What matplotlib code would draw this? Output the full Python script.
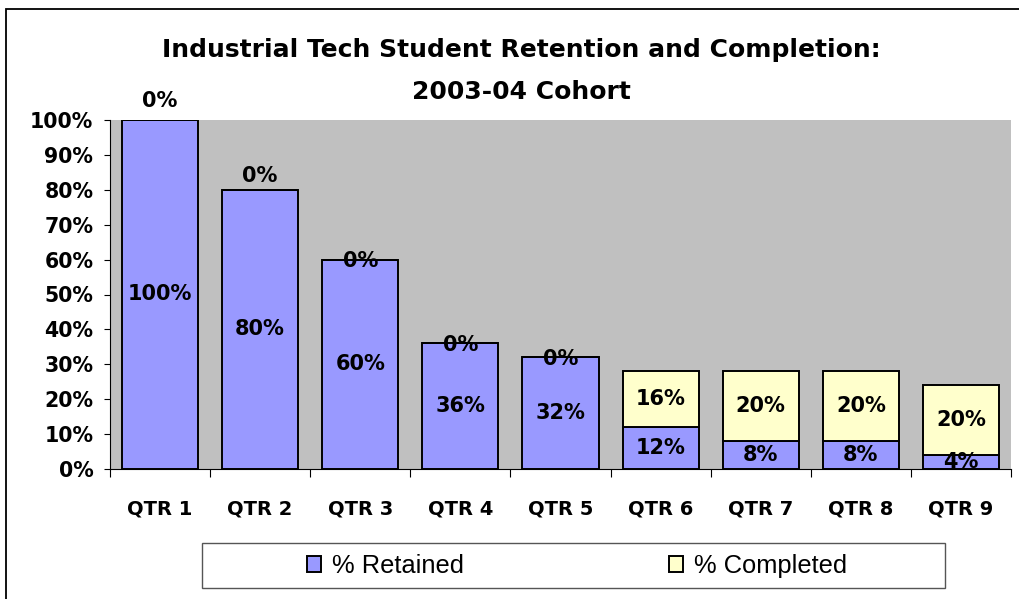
import matplotlib
matplotlib.use("Agg")
import matplotlib.pyplot as plt
from matplotlib.patches import Rectangle
from matplotlib.ticker import PercentFormatter, FixedLocator, NullFormatter
import numpy as np

# data (percent of cohort)
quarters = ["QTR 1", "QTR 2", "QTR 3", "QTR 4", "QTR 5",
            "QTR 6", "QTR 7", "QTR 8", "QTR 9"]
retained = [100, 80, 60, 36, 32, 12, 8, 8, 4]
completed = [0, 0, 0, 0, 0, 16, 20, 20, 20]

# Excel-ish palette
RET = "#9999FF"
COMP = "#FFFFCC"
PLOT_BG = "#C0C0C0"

# nudges (points) Excel applied to the zero "completed" labels
zero_nudge = [14, 10, -1, -1, -1, 0, 0, 0, 0]

W, H = 1020, 599
fig = plt.figure(figsize=(W / 100, H / 100), dpi=100)
fig.patch.set_facecolor("white")

ax = fig.add_axes([110 / W, 1 - 469 / H, (1011 - 110) / W, (469 - 120) / H])
ax.set_facecolor(PLOT_BG)

x = np.arange(len(quarters))
b1 = ax.bar(x, retained, width=0.76, color=RET, edgecolor="black", lw=1.4,
            label="% Retained", zorder=2)
b2 = ax.bar(x, completed, width=0.76, bottom=retained, color=COMP,
            edgecolor="black", lw=1.4, label="% Completed", zorder=2)

ax.set_xlim(-0.5, len(quarters) - 0.5)
ax.set_ylim(0, 100)

# y axis
ax.set_yticks(np.arange(0, 101, 10))
ax.yaxis.set_major_formatter(PercentFormatter(100, decimals=0))
ax.tick_params(axis="y", direction="out", length=4, width=0.8, pad=8,
               labelsize=14.8)
for t in ax.get_yticklabels():
    t.set_fontweight("bold")

# x axis: ticks between categories, labels centered
ax.xaxis.set_major_locator(FixedLocator(np.arange(-0.5, len(quarters), 1.0)))
ax.xaxis.set_major_formatter(NullFormatter())
ax.xaxis.set_minor_locator(FixedLocator(x))
ax.set_xticklabels(quarters, minor=True)
ax.tick_params(axis="x", which="major", direction="out", length=6, width=0.8)
ax.tick_params(axis="x", which="minor", length=0, pad=22, labelsize=14)
for t in ax.get_xticklabels(minor=True):
    t.set_fontweight("bold")

for s in ["top", "right"]:
    ax.spines[s].set_visible(False)
ax.spines["left"].set_linewidth(0.8)
ax.spines["bottom"].set_linewidth(0.8)

# data labels
for i in range(len(quarters)):
    ax.text(x[i], retained[i] / 2, f"{retained[i]}%", ha="center", va="center",
            fontsize=15, fontweight="bold", clip_on=True, zorder=3)
    ax.annotate(f"{completed[i]}%", (x[i], retained[i] + completed[i] / 2),
                xytext=(0, zero_nudge[i]), textcoords="offset points",
                ha="center", va="center", fontsize=15, fontweight="bold",
                annotation_clip=False, zorder=3)

# title, two lines
fig.text(521 / W, 1 - 50 / H, "Industrial Tech Student Retention and Completion:",
         ha="center", va="center", fontsize=18, fontweight="bold")
fig.text(521 / W, 1 - 92 / H, "2003-04 Cohort",
         ha="center", va="center", fontsize=18, fontweight="bold")

# legend box + entries
fig.patches.append(Rectangle((202 / W, 1 - 588 / H), (945 - 202) / W, 45 / H,
                             transform=fig.transFigure, facecolor="white",
                             edgecolor="#555555", lw=1.0))
fig.legend(handles=[b1, b2], loc="center", bbox_to_anchor=(577 / W, 1 - 566 / H),
           ncol=2, frameon=False, columnspacing=8.0, handlelength=0.55,
           handleheight=0.55, handletextpad=0.45,
           prop={"family": "Liberation Sans", "size": 18.4})

# outer chart border (only left/top visible in the crop)
fig.patches.append(Rectangle((6 / W, -0.05), 1.2, 1 - 8.5 / H + 0.05,
                             transform=fig.transFigure, fill=False,
                             edgecolor="black", lw=1.3))

fig.savefig("out.png", dpi=100, facecolor="white")
